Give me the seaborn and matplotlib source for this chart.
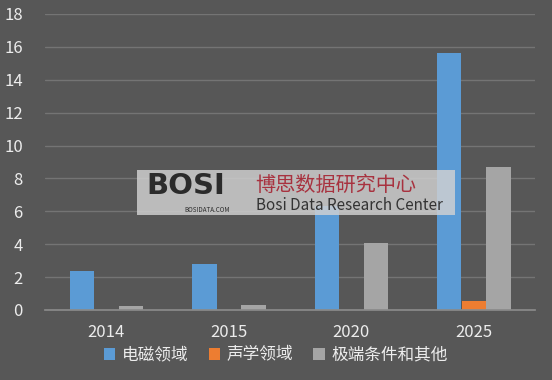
import matplotlib
matplotlib.use("Agg")
import matplotlib.pyplot as plt
from matplotlib.patches import Rectangle, Patch
import seaborn as sns
import pandas as pd

# data
years = ["2014", "2015", "2020", "2025"]
series = ["电磁领域", "声学领域", "极端条件和其他"]
em_vals = [2.4, 2.8, 6.3, 15.6]
acoustic_vals = [0.0, 0.0, 0.0, 0.55]
extreme_vals = [0.25, 0.3, 4.1, 8.7]
colors = ["#5b9bd5", "#ed7d31", "#a5a5a5"]

bg = "#575757"
txt = "#ececec"
grid_col = "#747474"

df = pd.DataFrame({
    "year": years * 3,
    "series": [series[0]] * 4 + [series[1]] * 4 + [series[2]] * 4,
    "value": em_vals + acoustic_vals + extreme_vals,
})

sns.set_theme(style="white")
plt.rcParams["font.family"] = ["Noto Sans CJK SC", "DejaVu Sans"]

fig = plt.figure(figsize=(5.52, 3.8), dpi=100, facecolor=bg)
ax = fig.add_axes([45 / 552, 1 - 310 / 380, 490 / 552, 296 / 380])
ax.set_facecolor(bg)

sns.barplot(data=df, x="year", y="value", hue="series", hue_order=series,
            palette=colors, width=0.6, gap=0, saturation=1, ax=ax,
            legend=False, errorbar=None, linewidth=0, edgecolor="none")

ax.set_xlim(-0.5, 3.5)
ax.set_ylim(0, 18)
ax.set_yticks(range(0, 19, 2))
ax.set_xlabel("")
ax.set_ylabel("")
ax.yaxis.grid(True, color=grid_col, linewidth=1)
ax.set_axisbelow(True)
for s in ["top", "right", "left"]:
    ax.spines[s].set_visible(False)
ax.spines["bottom"].set_color("#8a8a8a")
ax.tick_params(axis="both", length=0, colors=txt, labelsize=12)
ax.tick_params(axis="y", pad=16)
ax.tick_params(axis="x", pad=10)

handles = [Patch(facecolor=c, edgecolor="none", label=l) for c, l in zip(colors, series)]
fig.legend(handles=handles, loc="center", bbox_to_anchor=(0.5, 1 - 355 / 380),
           ncol=3, frameon=False, fontsize=12, handlelength=0.7, handleheight=0.7,
           handletextpad=0.4, columnspacing=1.2, labelcolor=txt)

# watermark overlay
fig.patches.append(Rectangle((137 / 552, 1 - 215 / 380), 318 / 552, 45 / 380,
                             transform=fig.transFigure, facecolor="#d2d2d2",
                             alpha=0.82, edgecolor="none", zorder=5))
fig.text(146 / 552, 1 - 186 / 380, "BOSI", fontsize=21, fontweight="bold",
         color="#2b2b2b", va="center", ha="left", zorder=6, family=["DejaVu Sans"])
fig.text(184 / 552, 1 - 210 / 380, "BOSIDATA.COM", fontsize=4.5, color="#2b2b2b",
         va="center", ha="left", zorder=6)
fig.text(255 / 552, 1 - 185 / 380, "博思数据研究中心", fontsize=14.5, color="#a8323f",
         va="center", ha="left", zorder=6)
fig.text(256 / 552, 1 - 206 / 380, "Bosi Data Research Center", fontsize=11,
         color="#333333", va="center", ha="left", zorder=6)

fig.savefig("out.png", dpi=100, facecolor=bg)
